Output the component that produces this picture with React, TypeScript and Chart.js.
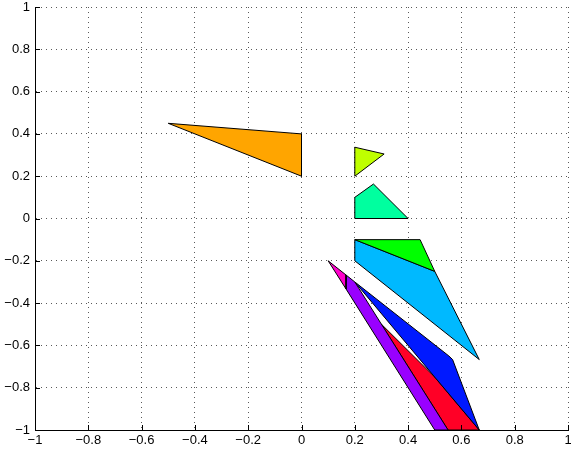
import React, { useEffect, useRef } from "react";
import { Chart, registerables } from "chart.js";

Chart.register(...registerables);

// Polygon vertices (data units)
const orangePoly = [
  { x: -0.5, y: 0.45 },
  { x: 0, y: 0.4 },
  { x: 0, y: 0.2 },
];
const limePoly = [
  { x: 0.2, y: 0.337 },
  { x: 0.31, y: 0.305 },
  { x: 0.2, y: 0.2 },
];
const springPoly = [
  { x: 0.2, y: 0.1 },
  { x: 0.27, y: 0.163 },
  { x: 0.4, y: 0 },
  { x: 0.2, y: 0 },
];
const greenPoly = [
  { x: 0.2, y: -0.1 },
  { x: 0.445, y: -0.1 },
  { x: 0.5, y: -0.25 },
];
const skyPoly = [
  { x: 0.2, y: -0.1 },
  { x: 0.5, y: -0.25 },
  { x: 0.667, y: -0.667 },
  { x: 0.2, y: -0.2 },
];
const magentaPoly = [
  { x: 0.1, y: -0.2 },
  { x: 0.167, y: -0.267 },
  { x: 0.167, y: -0.333 },
];
const purplePoly = [
  { x: 0.167, y: -0.267 },
  { x: 0.2, y: -0.3 },
  { x: 0.55, y: -1 },
  { x: 0.5, y: -1 },
  { x: 0.167, y: -0.333 },
];
const bluePoly = [
  { x: 0.2, y: -0.3 },
  { x: 0.553, y: -0.65 },
  { x: 0.567, y: -0.667 },
  { x: 0.667, y: -1 },
  { x: 0.5, y: -0.75 },
];
const redPoly = [
  { x: 0.3, y: -0.5 },
  { x: 0.5, y: -0.75 },
  { x: 0.667, y: -1 },
  { x: 0.55, y: -1 },
];

const polygons = [orangePoly, limePoly, springPoly, greenPoly, skyPoly, magentaPoly, purplePoly, bluePoly, redPoly];
const polyColors = [
  "#FFA500",
  "#BFFF00",
  "#00FF9F",
  "#00FF00",
  "#00B9FF",
  "#FF00CC",
  "#9900FF",
  "#0019FF",
  "#FF0026",
];

const axisMin = -1;
const axisMax = 1;
const axisStep = 0.2;

const fmt = (v: number) => {
  const r = Math.round(v * 10) / 10;
  const s = String(Math.abs(r));
  return r < 0 ? "\u2212" + s : s;
};

const inwardTicks = {
  id: "inwardTicks",
  afterDraw(chart: any) {
    const { ctx, chartArea, scales } = chart;
    ctx.save();
    ctx.strokeStyle = "#000";
    ctx.lineWidth = 1;
    ctx.beginPath();
    scales.x.ticks.forEach((t: any) => {
      const px = Math.round(scales.x.getPixelForValue(t.value)) + 0.5;
      ctx.moveTo(px, chartArea.bottom);
      ctx.lineTo(px, chartArea.bottom - 5);
    });
    scales.y.ticks.forEach((t: any) => {
      const py = Math.round(scales.y.getPixelForValue(t.value)) + 0.5;
      ctx.moveTo(chartArea.left, py);
      ctx.lineTo(chartArea.left + 5, py);
    });
    ctx.stroke();
    ctx.restore();
  },
};

export default function App() {
  const ref = useRef<HTMLCanvasElement>(null);
  useEffect(() => {
    document.body.style.margin = "0";
    const font = { family: "Liberation Sans, Arial, Helvetica, sans-serif", size: 13 };
    const axisCommon = (axis: "x" | "y") => ({
      type: "linear" as const,
      min: axisMin,
      max: axisMax,
      ticks: {
        stepSize: axisStep,
        color: "#000",
        font,
        padding: axis === "x" ? 3 : 5,
        callback: (v: any) => fmt(Number(v)),
        maxRotation: 0,
        autoSkip: false,
      },
      grid: { color: "rgba(0,0,0,0.65)", lineWidth: 1, drawTicks: false },
      border: { display: true, color: "#000", width: 1, dash: [1, 4] },
      afterFit: (scale: any) => {
        if (axis === "y") scale.width = 35;
        else scale.height = 20;
        scale.paddingTop = 0;
        scale.paddingBottom = 0;
        scale.paddingLeft = 0;
        scale.paddingRight = 0;
      },
    });
    const chart = new Chart(ref.current!, {
      type: "scatter",
      data: {
        datasets: polygons.map((poly, i) => ({
          data: [...poly, poly[0]],
          showLine: true,
          fill: "shape",
          backgroundColor: polyColors[i],
          borderColor: "#000",
          borderWidth: 1,
          pointRadius: 0,
          tension: 0,
        })),
      },
      options: {
        animation: false,
        responsive: false,
        maintainAspectRatio: false,
        layout: { padding: { top: 7, right: 3, left: 0, bottom: 0 } },
        plugins: { legend: { display: false }, tooltip: { enabled: false } },
        events: [],
        scales: { x: axisCommon("x"), y: axisCommon("y") },
      },
      plugins: [inwardTicks],
    } as any);
    return () => chart.destroy();
  }, []);
  return (
    <div style={{ width: 571, height: 450 }}>
      <canvas ref={ref} width={571} height={450} style={{ display: "block" }} />
    </div>
  );
}
